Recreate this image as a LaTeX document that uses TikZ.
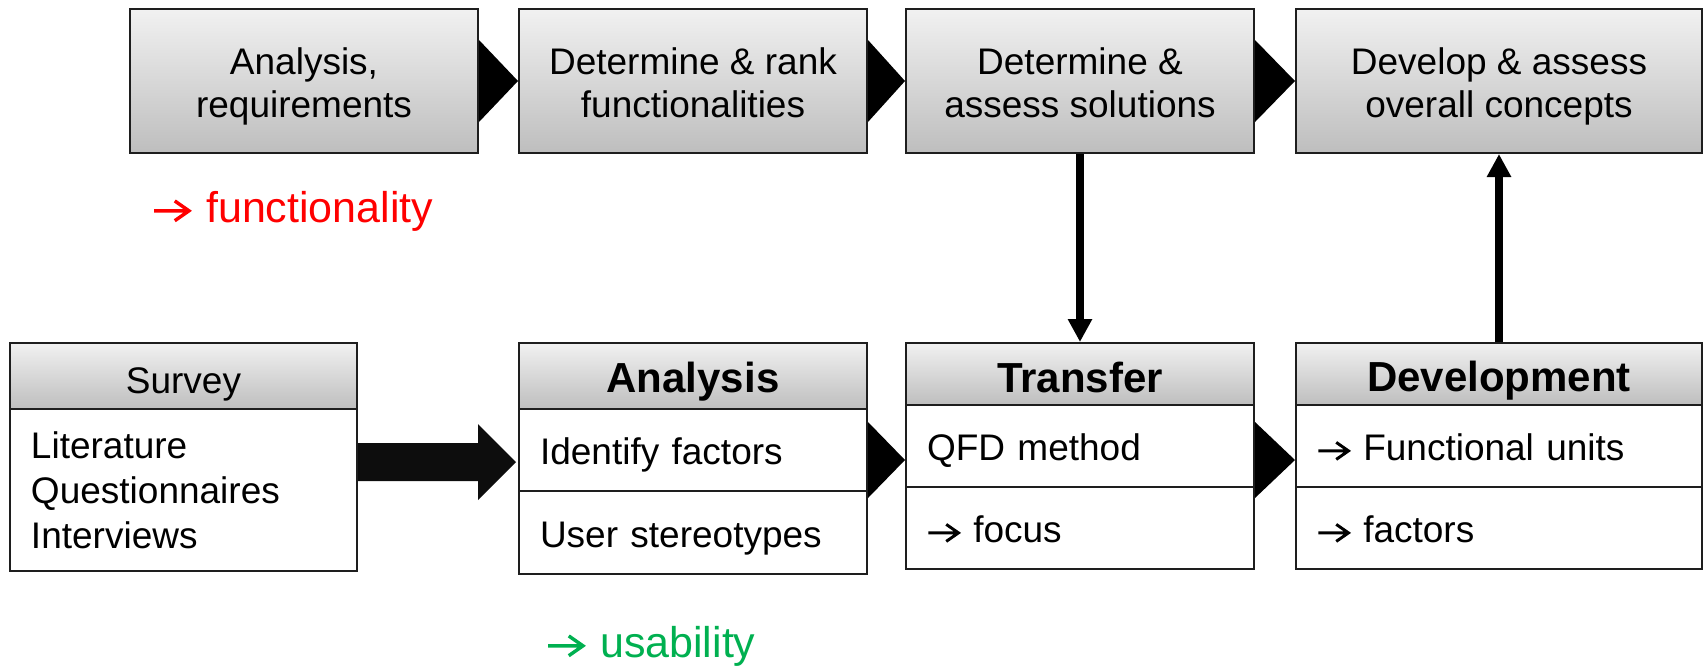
\documentclass[tikz,border=0pt]{standalone}
\usepackage{fontspec}
\setmainfont{Liberation Sans}
\usetikzlibrary{calc,arrows.meta}
\definecolor{boxtop}{RGB}{241,241,241}
\definecolor{boxbot}{RGB}{190,190,190}
\definecolor{fred}{RGB}{255,0,0}
\definecolor{fgreen}{RGB}{0,176,80}
\definecolor{edge}{RGB}{30,30,30}
\newcommand\rarr{\tikz[baseline=0pt,x=1em,y=1em]{\draw[line width=0.08em,line cap=butt,line join=miter] (0.02,0.26)--(0.82,0.26) (0.5,0.49)--(0.83,0.26)--(0.5,0.03);}\hspace{0.36em}}
\newcommand\tstr{\rule{0pt}{19.7pt}}
\newcommand\bstr{\rule[-5pt]{0pt}{5pt}}
\tikzset{
  stage/.style={draw=edge, line width=1pt, top color=boxtop, bottom color=boxbot,
    inner sep=0pt, align=center, font=\fontsize{18.5}{21.5}\selectfont},
  headbox/.style={draw=edge, line width=1pt, top color=boxtop, bottom color=boxbot,
    inner sep=0pt, align=center, text depth=0pt, font=\bfseries\fontsize{21}{25}\selectfont},
  rowbox/.style={draw=edge, line width=1pt, fill=white, inner xsep=10.5pt, inner ysep=0pt,
    align=left, text width=#1, font=\fontsize{18.5}{22.5}\selectfont},
  onerow/.style={text height=14.5pt, text depth=0pt},
  flowtri/.style={fill=black},
  bigarrow/.style={fill=black!95},
  vflow/.style={line width=4pt, -{Triangle[width=11.5pt,length=11.5pt]}},
  note/.style={inner sep=0pt, font=\fontsize{21.5}{25}\selectfont}
}
\begin{document}
\begin{tikzpicture}[x=0.5pt,y=-0.5pt]
\useasboundingbox (0,0) rectangle (1705,665);
% top stages
\node[stage, minimum width=174pt, minimum height=72pt] (s1) at (304,81) {\tstr Analysis,\\requirements\bstr};
\node[stage, minimum width=174pt, minimum height=72pt] (s2) at (693,81) {\tstr Determine \& rank\\functionalities\bstr};
\node[stage, minimum width=174pt, minimum height=72pt] (s3) at (1080,81) {\tstr Determine \&\\assess solutions\bstr};
\node[stage, minimum width=203pt, minimum height=72pt] (s4) at (1499,81) {\tstr Develop \& assess\\overall concepts\bstr};
% top triangles
\foreach \a/\b in {s1/s2,s2/s3,s3/s4}{
  \fill[flowtri] ($(\a.east)+(0,-41)$) -- (\b.west) -- ($(\a.east)+(0,41)$) -- cycle;
}
% notes
\node[note, text=fred, anchor=base west] (nf) at (152,222) {\rarr functionality};
\node[note, text=fgreen, anchor=base west] (nu) at (546,657) {\rarr usability};
% Survey
\node[stage, minimum width=173.5pt, minimum height=33pt, text height=17pt, text depth=0pt] (sv0) at (183.5,376) {Survey};
\node[rowbox=152.5pt, minimum height=81pt] (sv1) at (183.5,490) {Literature\\Questionnaires\\Interviews};
% Analysis
\node[headbox, minimum width=174pt, minimum height=33pt, text height=16pt] (a0) at (693,376) {Analysis};
\node[rowbox=153pt, onerow, minimum height=41pt] (a1) at (693,450) {Identify factors};
\node[rowbox=153pt, onerow, minimum height=41.5pt] (a2) at (693,532.5) {User stereotypes};
% Transfer
\node[headbox, minimum width=174pt, minimum height=31pt, text height=18pt] (t0) at (1080,374) {Transfer};
\node[rowbox=153pt, onerow, minimum height=41pt] (t1) at (1080,446) {QFD method};
\node[rowbox=153pt, onerow, minimum height=41pt] (t2) at (1080,528) {\rarr focus};
% Development
\node[headbox, minimum width=203pt, minimum height=31pt, text height=17.5pt] (d0) at (1499,374) {Development};
\node[rowbox=182pt, onerow, minimum height=41pt] (d1) at (1499,446) {\rarr Functional units};
\node[rowbox=182pt, onerow, minimum height=41pt] (d2) at (1499,528) {\rarr factors};
% lower triangles
\coordinate (T1) at ($(t1.west)+(0,14)$);
\fill[flowtri] ($(a1.east|-T1)+(0,-38)$) -- (T1) -- ($(a1.east|-T1)+(0,38)$) -- cycle;
\coordinate (T2) at ($(d1.west)+(0,14)$);
\fill[flowtri] ($(t1.east|-T2)+(0,-38)$) -- (T2) -- ($(t1.east|-T2)+(0,38)$) -- cycle;
% big arrow survey -> analysis
\coordinate (T0) at ($(a1.west)+(-2,12)$);
\fill[bigarrow] ($(sv1.east|-T0)+(0,-19)$) -- ($(T0)+(-38,-19)$) -- ($(T0)+(-38,-38)$) -- (T0)
  -- ($(T0)+(-38,38)$) -- ($(T0)+(-38,19)$) -- ($(sv1.east|-T0)+(0,19)$) -- cycle;
% vertical arrows
\draw[vflow] (s3.south) -- (t0.north);
\draw[vflow] (d0.north) -- (s4.south);
\end{tikzpicture}
\end{document}
